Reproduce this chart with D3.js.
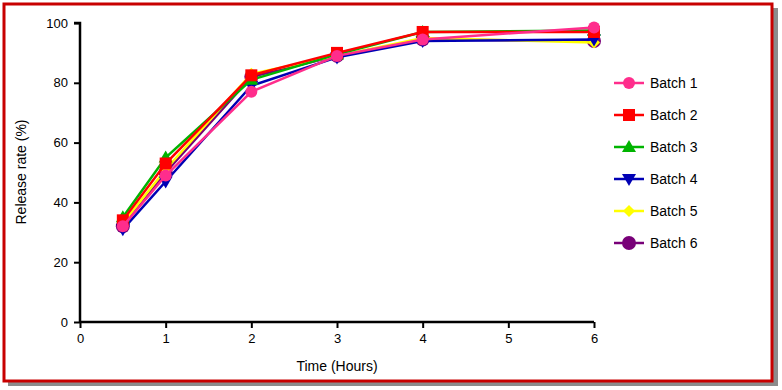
<!DOCTYPE html>
<html>
<head>
<meta charset="utf-8">
<script src="https://cdn.jsdelivr.net/npm/d3@7"></script>
<style>
  body { margin: 0; background: #fff; }
  text { font-family: Arial, "Liberation Sans", sans-serif; }
</style>
</head>
<body>
<svg width="782" height="390"></svg>
<script>
const times = [0.5, 1, 2, 3, 4, 6];
const batch1 = [32, 49, 77, 89, 94.5, 98.5];
const batch2 = [34, 53, 82.5, 90, 97, 97];
const batch3 = [35, 55, 81, 89.5, 97, 97.5];
const batch4 = [31, 47, 79, 88.5, 94, 94.5];
const batch5 = [33, 51, 83, 89, 95, 93.5];
const batch6 = [32, 50, 82, 89, 94.5, 94];
const xTicks = [0, 1, 2, 3, 4, 5, 6];
const yTicks = [0, 20, 40, 60, 80, 100];

const series = [
  { name: "Batch 1", values: batch1, color: "#ff2d8c", shape: "circle" },
  { name: "Batch 2", values: batch2, color: "#ff0000", shape: "square" },
  { name: "Batch 3", values: batch3, color: "#00b400", shape: "triangle" },
  { name: "Batch 4", values: batch4, color: "#0000b4", shape: "down" },
  { name: "Batch 5", values: batch5, color: "#ffff00", shape: "diamond" },
  { name: "Batch 6", values: batch6, color: "#780078", shape: "bigcircle" }
];

const svg = d3.select("svg");

// frame with shadow
svg.append("rect").attr("x", 8).attr("y", 8).attr("width", 770).attr("height", 378).attr("fill", "#8c8c8c");
svg.append("rect").attr("x", 4).attr("y", 4).attr("width", 768).attr("height", 377)
  .attr("fill", "#fff").attr("stroke", "#c80000").attr("stroke-width", 3);

const x = d3.scaleLinear().domain([0, 6]).range([80, 594]);
const y = d3.scaleLinear().domain([0, 100]).range([322, 23]);

const xAxis = svg.append("g").attr("transform", "translate(0,322)")
  .call(d3.axisBottom(x).tickValues(xTicks).tickSize(6).tickPadding(6).tickFormat(d3.format("d")));
const yAxis = svg.append("g").attr("transform", "translate(80,0)")
  .call(d3.axisLeft(y).tickValues(yTicks).tickSize(6).tickPadding(6));
[xAxis, yAxis].forEach(a => {
  a.select(".domain").attr("stroke", "#000").attr("stroke-width", 2.5);
  a.selectAll(".tick line").attr("stroke", "#000").attr("stroke-width", 2);
  a.selectAll(".tick text").attr("font-size", 13).attr("fill", "#000");
});
yAxis.select(".domain").attr("d", "M-6," + y(100) + "H0V" + y(0));
xAxis.select(".domain").attr("d", "M" + x(0) + ",0H" + x(6));

svg.append("text").attr("x", 337).attr("y", 371).attr("text-anchor", "middle")
  .attr("font-size", 14).text("Time (Hours)");
svg.append("text").attr("transform", "translate(26,172) rotate(-90)").attr("text-anchor", "middle")
  .attr("font-size", 14).text("Release rate (%)");

function marker(g, s, cx, cy) {
  const c = s.color;
  if (s.shape === "circle") g.append("circle").attr("cx", cx).attr("cy", cy).attr("r", 6).attr("fill", c);
  else if (s.shape === "bigcircle") g.append("circle").attr("cx", cx).attr("cy", cy).attr("r", 7).attr("fill", c);
  else if (s.shape === "square") g.append("rect").attr("x", cx - 6).attr("y", cy - 6).attr("width", 12).attr("height", 12).attr("fill", c);
  else if (s.shape === "triangle") g.append("path").attr("d", `M${cx},${cy - 7}L${cx + 7},${cy + 5}L${cx - 7},${cy + 5}Z`).attr("fill", c);
  else if (s.shape === "down") g.append("path").attr("d", `M${cx},${cy + 7}L${cx + 7},${cy - 5}L${cx - 7},${cy - 5}Z`).attr("fill", c);
  else if (s.shape === "diamond") g.append("path").attr("d", `M${cx},${cy - 6}L${cx + 6},${cy}L${cx},${cy + 6}L${cx - 6},${cy}Z`).attr("fill", c);
}

const line = d3.line().x(d => x(d[0])).y(d => y(d[1]));
series.slice().reverse().forEach(s => {
  const pts = times.map((t, i) => [t, s.values[i]]);
  const g = svg.append("g");
  g.append("path").attr("d", line(pts)).attr("fill", "none").attr("stroke", s.color).attr("stroke-width", 2.5);
  pts.forEach(p => marker(g, s, x(p[0]), y(p[1])));
});

// legend
series.forEach((s, i) => {
  const ly = 83 + i * 32;
  const g = svg.append("g");
  g.append("line").attr("x1", 614).attr("x2", 644).attr("y1", ly).attr("y2", ly)
    .attr("stroke", s.color).attr("stroke-width", 2.5);
  marker(g, s, 629, ly);
  g.append("text").attr("x", 650).attr("y", ly + 5).attr("font-size", 14).text(s.name);
});
</script>
</body>
</html>
